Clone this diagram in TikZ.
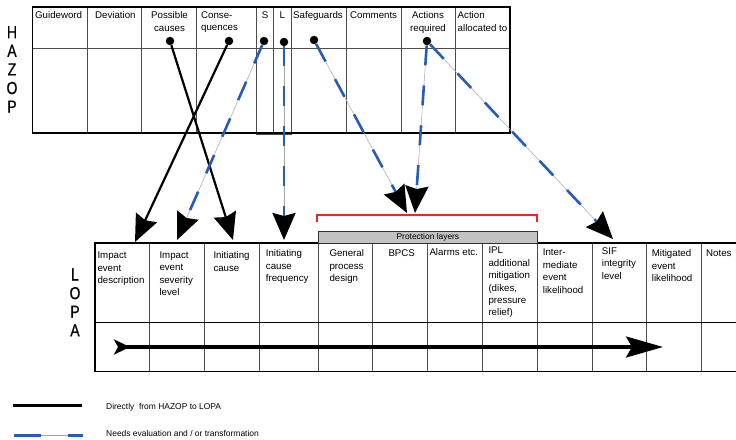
\documentclass[tikz,border=0pt]{standalone}
\usepackage{fontspec}
\setmainfont{Liberation Sans}
\newfontfamily\tallletters[FakeStretch=0.8,FakeBold=0.6]{Liberation Sans}
\usetikzlibrary{arrows.meta}
\definecolor{dashblue}{RGB}{40,92,176}
\definecolor{bracketred}{RGB}{236,38,38}
\definecolor{bargray}{RGB}{194,194,194}

\begin{document}
\begin{tikzpicture}[x=1pt,y=-1pt,
  cell/.style={font=\fontsize{9.7}{12.4}\selectfont, inner sep=0pt, anchor=north west, align=left},
  ccell/.style={cell, anchor=north, align=center},
  grid/.style={draw=black!70, line width=0.8pt},
  frame/.style={draw=black, line width=1.1pt},
  dot/.style={circle, fill=black, inner sep=0pt, minimum size=8.5pt},
  bigletters/.style={font=\tallletters\fontsize{17.5}{18.6}\selectfont, inner sep=0pt, anchor=north, align=center},
  direct/.style={draw=black, line width=2.2pt, -{Stealth[length=27pt,width=23pt,inset=3pt]}},
  guide/.style={draw=black!35, line width=0.5pt},
  needs/.style={draw=dashblue, line width=2.6pt, dash pattern=on 20pt off 20pt,
    -{Stealth[black,length=27pt,width=23pt,inset=3pt]}},
  legendtext/.style={font=\fontsize{8.45}{10}\selectfont, inner sep=0pt, anchor=base west},
]
\useasboundingbox (0,0) rectangle (736,439);

% ---------------- HAZOP worksheet ----------------
\node[bigletters] (hazop) at (12,26) {H\\A\\Z\\O\\P};
\foreach \x in {87.3,141.7,196,346.7,401,455.7}
  \draw[grid] (\x,7) -- (\x,133);
\foreach \x in {256.7,273.3,291}
  \draw[grid] (\x,7) -- (\x,134.5);
\draw[grid] (256.7,134.5) -- (291,134.5);
\draw[grid] (32.3,48) -- (510,48);
\draw[frame] (32.3,7) rectangle (510,133);

\node[cell] (hguide) at (35,11.6) {Guideword};
\node[cell] (hdev) at (95,11.6) {Deviation};
\node[ccell] (hcause) at (169.5,11.6) {Possible\\causes};
\node[cell] (hcons) at (201,11.6) {Conse-\\quences};
\node[ccell] (hs) at (265,11.6) {S};
\node[ccell] (hl) at (282.2,11.6) {L};
\node[cell] (hsafe) at (293,11.6) {Safeguards};
\node[cell] (hcomm) at (350,11.6) {Comments};
\node[ccell] (hact) at (428,11.6) {Actions\\required};
\node[cell] (halloc) at (457.5,11.6) {Action\\allocated to};

% attachment points in the HAZOP header
\node[dot] (pc) at (170,41) {};
\node[dot] (con) at (229,41) {};
\node[dot] (sev) at (264,41) {};
\node[dot] (lik) at (284,42) {};
\node[dot] (sg) at (314,40) {};
\node[dot] (ar) at (427,41) {};

% ---------------- LOPA worksheet ----------------
\node[bigletters] (lopa) at (75,268.3) {L\\O\\P\\A};
\foreach \x in {149.3,204.3,259,318.3,372.7,427.7,482.3,537.3,592.3,646.7,701}
  \draw[grid] (\x,243) -- (\x,371.7);
\draw[frame] (95,322.7) -- (736,322.7);
\draw[frame] (736,243) -- (95,243) -- (95,371.7) -- (736,371.7);

\node[draw=black!80, line width=0.8pt, fill=bargray, minimum width=218.4pt, minimum height=12pt,
  inner sep=0pt, anchor=north west, font=\fontsize{8.4}{10}\selectfont] (prot) at (318.3,231) {Protection layers};
\draw[bracketred, line width=2pt] (316.7,222) -- (316.7,215) -- (537.3,215) -- (537.3,222);

\node[cell] (ldesc) at (97.3,252.1) {Impact\\event\\description};
\node[cell] (lsev) at (159.3,251.4) {Impact\\event\\severity\\level};
\node[cell] (lic) at (213.3,251.4) {Initiating\\cause};
\node[cell] (lfreq) at (265.7,249.7) {Initiating\\cause\\frequency};
\node[cell] (lgen) at (329.3,249.7) {General\\process\\design};
\node[cell] (lbpcs) at (388.3,249.7) {BPCS};
\node[cell] (lalarm) at (429.3,248.7) {Alarms etc.};
\node[cell] (lipl) at (488.3,247.1) {IPL\\additional\\mitigation\\(dikes,\\pressure\\relief)};
\node[cell] (linter) at (542.7,249.1) {Inter-\\mediate\\event\\likelihood};
\node[cell] (lsif) at (601.7,247.4) {SIF\\integrity\\level};
\node[cell] (lmit) at (651.7,249.7) {Mitigated\\event\\likelihood};
\node[cell] (lnotes) at (706,249.7) {Notes};

% arrow tips on the LOPA side
\coordinate (tdesc) at (135,242);
\coordinate (tsev) at (177,240);
\coordinate (tic) at (233,240);
\coordinate (tfreq) at (284,240);
\coordinate (tsg) at (407,213);
\coordinate (tar) at (415,213);
\coordinate (tsif) at (613,239);

% direct transfers
\draw[direct] (con) -- (tdesc);
\draw[direct] (pc) -- (tic);

% transfers needing evaluation
\foreach \a/\b in {sev/tsev, lik/tfreq, sg/tsg, ar/tar, ar/tsif}{
  \draw[guide, shorten >=18pt] (\a) -- (\b);
  \draw[needs] (\a) -- (\b);
}

% flow through the LOPA row
\coordinate (flowstart) at (114,347);
\coordinate (flowend) at (663,347);
\draw[line width=3.2pt, {Stealth[reversed,length=16pt,width=15pt,inset=4pt]}-{Stealth[length=37pt,width=21pt,inset=6pt]}]
  (flowstart) -- (flowend);

% ---------------- legend ----------------
\coordinate (lda) at (13,405.7);
\coordinate (ldb) at (82,405.7);
\draw[line width=3pt] (lda) -- (ldb);
\node[legendtext] (ltxta) at (106,409.6) {Directly\ \ from HAZOP to LOPA};
\coordinate (lna) at (14,435);
\coordinate (lnb) at (83,435);
\draw[guide] (lna) -- (lnb);
\draw[dashblue, line width=3pt, dash pattern=on 27pt off 27pt] (lna) -- (lnb);
\node[legendtext] (ltxtb) at (106,436.3) {Needs evaluation and / or transformation};
\end{tikzpicture}
\end{document}
